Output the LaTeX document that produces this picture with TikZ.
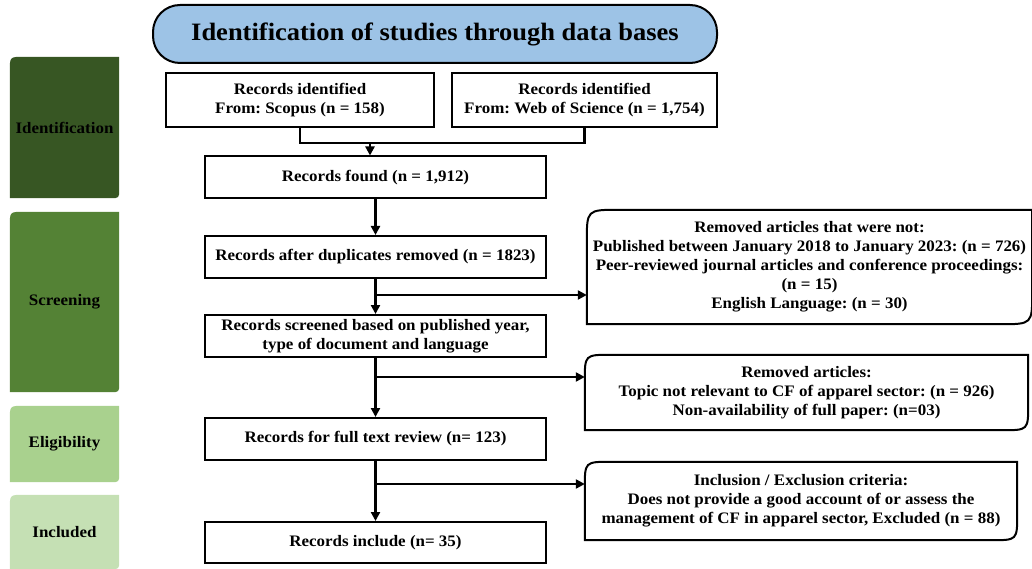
\documentclass[tikz,border=0pt]{standalone}
\usepackage{fontspec}
\setmainfont{Liberation Serif}[FakeStretch=1.06]
\usetikzlibrary{arrows.meta,calc}
\definecolor{identc}{HTML}{375623}
\definecolor{screenc}{HTML}{548235}
\definecolor{eligc}{HTML}{A9D18E}
\definecolor{inclc}{HTML}{C5E0B4}
\definecolor{titlec}{HTML}{9DC3E6}
\frenchspacing
\begin{document}
\begin{tikzpicture}[x=1pt,y=-1pt,
  txt/.style={font=\bfseries\fontsize{16}{19}\selectfont, align=center, inner sep=0pt},
  box/.style={txt, draw, line width=2pt, fill=white},
  side/.style={inner sep=0pt, font=\bfseries\fontsize{16}{18}\selectfont},
  arr/.style={-{Triangle[length=9pt,width=9pt]}, line width=2.2pt},
  conn/.style={line width=2.2pt}
]
\path[use as bounding box] (0,0) rectangle (1032,569);

% title
\node[draw, line width=2pt, fill=titlec, rounded corners=27pt, minimum width=564pt, minimum height=58pt,
  font=\bfseries\fontsize{25}{28}\selectfont, inner sep=0pt] (title) at (435,34) {Identification of studies through data bases};

% side stage boxes
\node[side, minimum width=109pt, minimum height=141pt] (sid) at (64.5,127.5) {};
\node[side, minimum width=109pt, minimum height=180pt] (ssc) at (64.5,302) {};
\node[side, minimum width=109pt, minimum height=76pt] (sel) at (64.5,444) {};
\node[side, minimum width=109pt, minimum height=74pt] (sin) at (64.5,532) {};
\foreach \n/\c in {sid/identc, ssc/screenc, sel/eligc, sin/inclc}{
  \fill[\c] (\n.south west) -- ($(\n.north west)+(0,14)$) .. controls (\n.north west) .. ($(\n.north west)+(14,0)$)
    -- (\n.north east) -- ($(\n.south east)-(0,9)$) .. controls (\n.south east) .. ($(\n.south east)-(9,0)$) -- cycle;
}
\node[side] at (sid) {Identification};
\node[side] at (ssc) {Screening};
\node[side] at (sel) {Eligibility};
\node[side] at (sin) {Included};

% main boxes
\node[box, minimum width=268pt, minimum height=54pt] (scopus) at (300,100) {Records identified\\From: Scopus (n = 158)};
\node[box, minimum width=265pt, minimum height=54pt] (wos) at (584.5,100) {Records identified\\From: Web of Science (n = 1,754)};
\node[box, minimum width=341pt, minimum height=42pt] (found) at (375.5,177.5) {Records found (n = 1,912)};
\node[box, minimum width=341pt, minimum height=42pt] (dup) at (375.5,257) {Records after duplicates removed (n = 1823)};
\node[box, minimum width=341pt, minimum height=42pt] (scr) at (375.5,336) {Records screened based on published year,\\type of document and language};
\node[box, minimum width=341pt, minimum height=42pt] (full) at (375.5,439) {Records for full text review (n= 123)};
\node[box, minimum width=341pt, minimum height=41pt] (incl) at (375.5,542.5) {Records include (n= 35)};

% right boxes (shapes drawn below)
\node[txt, minimum width=445pt, minimum height=114pt] (r1) at (809.5,267) {};
\node[txt, minimum width=443pt, minimum height=75pt] (r2) at (806.5,392.5) {};
\node[txt, minimum width=432pt, minimum height=78pt] (r3) at (801,501) {};
\foreach \n/\r in {r1/32, r2/26, r3/26}{
  \draw[line width=2pt, fill=white] (\n.south west) -- ($(\n.north west)+(0,\r)$) .. controls (\n.north west) .. ($(\n.north west)+(\r,0)$)
    -- (\n.north east) -- ($(\n.south east)-(0,\r)$) .. controls (\n.south east) .. ($(\n.south east)-(\r,0)$) -- cycle;
}
\node[txt] at (r1) {Removed articles that were not:\\Published between January 2018 to January 2023: (n = 726)\\Peer-reviewed journal articles and conference proceedings:\\(n = 15)\\English Language: (n = 30)};
\node[txt] at (r2) {Removed articles:\\Topic not relevant to CF of apparel sector: (n = 926)\\Non-availability of full paper: (n=03)};
\node[txt] at (r3) {Inclusion / Exclusion criteria:\\Does not provide a good account of or assess the\\management of CF in apparel sector, Excluded (n = 88)};

% connectors
\coordinate (j) at (370,143);
\draw[conn] (scopus.south) |- (j) -| (wos.south);
\draw[arr] (j) -- (j |- found.north);
\draw[arr] (found) -- (dup);
\draw[arr] (dup) -- (scr);
\draw[arr] (scr) -- (full);
\draw[arr] (full) -- (incl);
\coordinate (b1) at (375.5,295);
\coordinate (b2) at (375.5,377);
\coordinate (b3) at (375.5,484);
\draw[arr] (b1) -- (b1 -| r1.west);
\draw[arr] (b2) -- (b2 -| r2.west);
\draw[arr] (b3) -- (b3 -| r3.west);
\end{tikzpicture}
\end{document}
